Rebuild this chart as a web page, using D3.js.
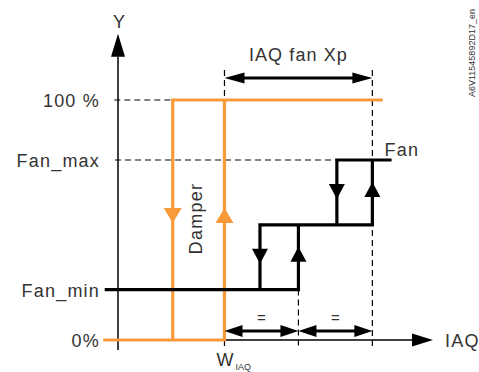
<!DOCTYPE html>
<html><head><meta charset="utf-8">
<script src="https://cdn.jsdelivr.net/npm/d3@7"></script>
<style>
body{margin:0;background:#fff}
svg{display:block}
text{font-family:"Liberation Sans",Arial,sans-serif;fill:#333}
</style>
</head><body>
<svg id="c" width="479" height="372"></svg>
<script>
// ---- data ----
const yLevelNames = ["0%", "Fan_min", "Fan_max", "100 %"];
const yLevelValues = [0, 21, 75, 100];
const fanLevels = [21, 48, 75];          // Fan_min, intermediate step, Fan_max
const fanStepOn = [50, 100];             // IAQ value where fan steps up
const fanStepOff = [24, 76];             // IAQ value where fan steps down
const fanRange = [-81, 113];             // extent of fan curve
const damperOn = 0;                      // W_IAQ
const damperOff = -35;
const damperRange = [-82, 107];
const damperLevels = [0, 100];
const xpRange = [0, 100];                // IAQ fan Xp
const xpSplit = 50;
const xDomain = [-72, 141];
const yDomain = [0, 100];

const svg = d3.select("#c");
const x = d3.scaleLinear().domain(xDomain).range([118, 433]);
const y = d3.scaleLinear().domain(yDomain).range([340, 100]);

const ORANGE = "#f99a3a";
const line = d3.line().x(d => x(d[0])).y(d => y(d[1]));

function vArrow(cx, cy, up, w, h, color) {
  const tip = up ? cy - h / 2 : cy + h / 2, base = up ? cy + h / 2 : cy - h / 2;
  svg.append("path").attr("d", `M${cx},${tip}L${cx - w / 2},${base}L${cx + w / 2},${base}Z`).attr("fill", color);
}
function hArrow(tipX, cy, right, len, w, color) {
  const base = right ? tipX - len : tipX + len;
  svg.append("path").attr("d", `M${tipX},${cy}L${base},${cy - w / 2}L${base},${cy + w / 2}Z`).attr("fill", color);
}
function dashed(pts) {
  svg.append("path").attr("d", line(pts)).attr("fill", "none").attr("stroke", "#000")
    .attr("stroke-width", 1.2).attr("stroke-dasharray", "6,4");
}

// ---- axes ----
const yAxisTopVal = 118, yAxisBottomPx = 350;
svg.append("line").attr("x1", x(xDomain[0])).attr("x2", x(xDomain[0]))
  .attr("y1", y(yAxisTopVal)).attr("y2", yAxisBottomPx).attr("stroke", "#000").attr("stroke-width", 1.5);
vArrow(x(xDomain[0]), y(yAxisTopVal) - 11.5, true, 14, 23, "#000");
svg.append("text").attr("x", x(xDomain[0]) + 1).attr("y", 28).attr("text-anchor", "middle")
  .attr("font-size", 18).text("Y");

svg.append("line").attr("x1", x(xDomain[0])).attr("x2", x(xDomain[1]) - 21)
  .attr("y1", y(0)).attr("y2", y(0)).attr("stroke", "#000").attr("stroke-width", 1.5);
hArrow(x(xDomain[1]), y(0), true, 21, 13, "#000");
svg.append("text").attr("x", 445).attr("y", y(0) + 6.5).attr("font-size", 18)
  .attr("letter-spacing", 1.2).text("IAQ");

// y level labels via d3 axis
const yAx = svg.append("g").attr("transform", `translate(${x(xDomain[0])},0)`)
  .call(d3.axisLeft(y).tickValues(yLevelValues).tickSize(0).tickPadding(18)
    .tickFormat((d, i) => yLevelNames[i]));
yAx.select(".domain").remove();
yAx.selectAll("text").attr("font-size", 18).attr("letter-spacing", 1.2)
  .attr("fill", "#333").attr("font-family", '"Liberation Sans",Arial,sans-serif')
  .attr("dy", "0.36em");

// W_IAQ label
const wl = svg.append("text").attr("x", x(damperOn) - 8).attr("y", 366).attr("font-size", 18);
wl.append("tspan").text("W");
wl.append("tspan").attr("font-size", 9).attr("dy", 3.5).attr("dx", 2).text("IAQ");

// ---- dashed guides ----
const dashTop = 112.5;
dashed([[-74.5, 100], [damperOff, 100]]);
dashed([[-74, fanLevels[2]], [fanStepOff[1], fanLevels[2]]]);
dashed([[xpRange[0], dashTop], [xpRange[0], -2.5]]);
dashed([[xpRange[1], dashTop], [xpRange[1], -2.5]]);
dashed([[xpSplit, fanLevels[0]], [xpSplit, -2.5]]);

// ---- damper (orange) ----
const damperUp = [
  [damperRange[0], damperLevels[0]], [damperOn, damperLevels[0]], [damperOn, damperLevels[1]]
];
const damperDown = [
  [damperRange[1], damperLevels[1]], [damperOff, damperLevels[1]], [damperOff, damperLevels[0]]
];
[damperUp, damperDown].forEach(p => svg.append("path").attr("d", line(p)).attr("fill", "none")
  .attr("stroke", ORANGE).attr("stroke-width", 3.2));
const dMid = (y(damperLevels[0]) + y(damperLevels[1])) / 2 - 4.5;
vArrow(x(damperOff), dMid, false, 18, 15, ORANGE);
vArrow(x(damperOn), dMid, true, 18, 15, ORANGE);
svg.append("text").attr("transform", `translate(${x(damperOff) + 29},${dMid + 3}) rotate(-90)`)
  .attr("text-anchor", "middle").attr("font-size", 18).attr("letter-spacing", 1.3).text("Damper");

// ---- fan (black) ----
const fanSegs = [
  [[fanRange[0], fanLevels[0]], [fanStepOn[0], fanLevels[0]], [fanStepOn[0], fanLevels[1]]],
  [[fanStepOff[0], fanLevels[0]], [fanStepOff[0], fanLevels[1]], [fanStepOn[1], fanLevels[1]], [fanStepOn[1], fanLevels[2]]],
  [[fanStepOff[1], fanLevels[1]], [fanStepOff[1], fanLevels[2]], [fanRange[1], fanLevels[2]]]
];
fanSegs.forEach(s => svg.append("path").attr("d", line(s)).attr("fill", "none")
  .attr("stroke", "#000").attr("stroke-width", 3.2).attr("stroke-linejoin", "miter"));
for (let i = 0; i < 2; i++) {
  const m = (y(fanLevels[i]) + y(fanLevels[i + 1])) / 2;
  vArrow(x(fanStepOff[i]), m - 1, false, 16, 15, "#000");
  vArrow(x(fanStepOn[i]), m - 3, true, 16, 15, "#000");
}
svg.append("text").attr("x", x(fanRange[1]) - 7).attr("y", y(fanLevels[2]) - 4)
  .attr("font-size", 18).attr("letter-spacing", 1.2).text("Fan");

// ---- Xp dimension ----
function dimArrow(a, b, yp, len, w) {
  svg.append("line").attr("x1", x(a) + len - 2).attr("x2", x(b) - len + 2)
    .attr("y1", yp).attr("y2", yp).attr("stroke", "#000").attr("stroke-width", 3);
  hArrow(x(a), yp, false, len, w, "#000");
  hArrow(x(b), yp, true, len, w, "#000");
}
dimArrow(xpRange[0], xpRange[1], 78, 20, 11);
svg.append("text").attr("x", (x(xpRange[0]) + x(xpRange[1])) / 2).attr("y", 61)
  .attr("text-anchor", "middle").attr("font-size", 18).attr("letter-spacing", 1.1).text("IAQ fan Xp");

dimArrow(xpRange[0], xpSplit, 331, 18, 12);
dimArrow(xpSplit, xpRange[1], 331, 18, 12);
[[xpRange[0], xpSplit], [xpSplit, xpRange[1]]].forEach(p => {
  svg.append("text").attr("x", (x(p[0]) + x(p[1])) / 2).attr("y", 323)
    .attr("text-anchor", "middle").attr("font-size", 15).text("=");
});

// ---- document id ----
svg.append("text").attr("transform", "translate(475,97) rotate(-90)")
  .attr("font-size", 9).attr("fill", "#555").text("A6V11545892D17_en");
</script>
</body></html>
